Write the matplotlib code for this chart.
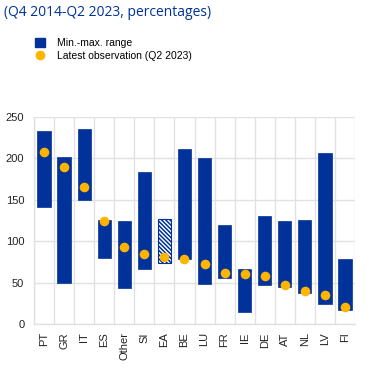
import numpy as np
import matplotlib
matplotlib.use('Agg')
import matplotlib.pyplot as plt
from matplotlib.patches import Patch
from matplotlib.lines import Line2D

# data
countries = ['PT', 'GR', 'IT', 'ES', 'Other', 'SI', 'EA', 'BE', 'LU', 'FR',
             'IE', 'DE', 'AT', 'NL', 'LV', 'FI']
range_min = [141, 50, 150, 80, 43, 67, 74, 78, 48, 55, 15, 47, 45, 37, 24, 17]
range_max = [233, 202, 235, 126, 124, 183, 127, 211, 200, 119, 66, 131, 125, 126, 207, 79]
latest = [208, 190, 166, 125, 93, 85, 81, 79, 72, 62, 60, 58, 47, 40, 35, 20]

blue = '#003299'
yellow = '#FFB400'
grid_col = '#e1e1e1'

plt.rcParams['font.family'] = ['Liberation Sans', 'DejaVu Sans']
plt.rcParams['hatch.color'] = blue
plt.rcParams['hatch.linewidth'] = 1.1

fig = plt.figure(figsize=(3.69, 3.90), dpi=100)
ax = fig.add_axes([34 / 369, 66 / 390, 321 / 369, 207 / 390])

x = np.arange(len(countries))
heights = np.array(range_max) - np.array(range_min)
for i, c in enumerate(countries):
    if c == 'EA':
        ax.bar(x[i], heights[i], bottom=range_min[i], width=0.66,
               color='white', edgecolor=blue, hatch='\\' * 8, linewidth=0.8, zorder=2)
    else:
        ax.bar(x[i], heights[i], bottom=range_min[i], width=0.66,
               color=blue, edgecolor=blue, linewidth=0.5, zorder=2)

ax.scatter(x, latest, s=48, color=yellow, zorder=3, linewidths=0)

ax.set_xlim(-0.5, len(countries) - 0.5)
ax.set_ylim(0, 250)
ax.set_yticks(np.arange(0, 251, 50))
ax.set_xticks(x)
ax.set_xticklabels(countries, rotation=90)
ax.set_xticks(np.arange(-0.5, len(countries), 1), minor=True)
ax.grid(True, axis='y', color=grid_col, linewidth=1, zorder=0)
ax.grid(True, axis='x', which='minor', color=grid_col, linewidth=1, zorder=0)
ax.grid(False, axis='x', which='major')
ax.tick_params(axis='both', which='both', length=0, labelsize=8, colors='#222222')
ax.tick_params(axis='y', pad=7)
ax.tick_params(axis='x', pad=6)
for s in ['top', 'right']:
    ax.spines[s].set_visible(False)
for s in ['left', 'bottom']:
    ax.spines[s].set_color(grid_col)
    ax.spines[s].set_linewidth(1)
ax.set_axisbelow(True)

fig.text(4 / 369, 1 - 13 / 390, '(Q4 2014-Q2 2023, percentages)', color=blue,
         fontsize=10, va='center', ha='left', family=['Open Sans', 'DejaVu Sans'])

handles = [Patch(facecolor=blue, edgecolor=blue),
           Line2D([0], [0], marker='o', color='none', markerfacecolor=yellow,
                  markeredgewidth=0, markersize=7)]
fig.legend(handles, ['Min.-max. range', 'Latest observation (Q2 2023)'],
           loc='upper left', bbox_to_anchor=(31 / 369, 1 - 34 / 390), frameon=False,
           fontsize=7.5, handlelength=0.9, handleheight=0.9, handletextpad=1.2,
           labelspacing=0.3, borderaxespad=0)

fig.savefig('out.png', dpi=100)
